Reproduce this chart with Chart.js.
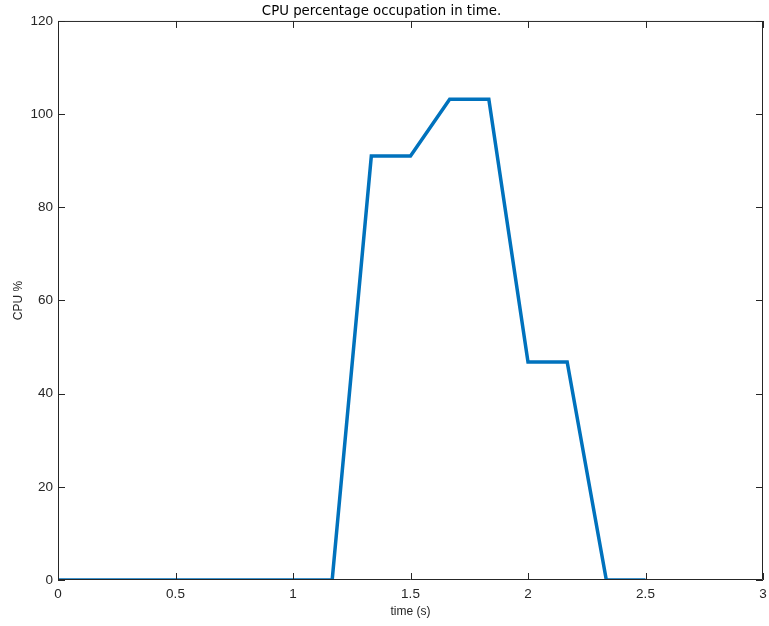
<!DOCTYPE html>
<html>
<head>
<meta charset="utf-8">
<script src="https://cdn.jsdelivr.net/npm/chart.js@4/dist/chart.umd.min.js"></script>
<style>
html,body{margin:0;padding:0;background:#fff;}
#wrap{width:769px;height:626px;position:relative;}
</style>
</head>
<body>
<div id="wrap"><canvas id="c" width="769" height="626"></canvas></div>
<script>
const timeValues = [0, 0.1667, 0.3333, 0.5, 0.6667, 0.8333, 1.0, 1.1667, 1.3333, 1.5, 1.6667, 1.8333, 2.0, 2.1667, 2.3333, 2.5];
const cpuValues  = [0, 0, 0, 0, 0, 0, 0, 0, 91, 91, 103.2, 103.2, 46.8, 46.8, 0, 0];
const xTicks = [0, 0.5, 1, 1.5, 2, 2.5, 3];
const yTicks = [0, 20, 40, 60, 80, 100, 120];

const axisColor = '#262626';
const fontFam = '"Liberation Sans", Arial, sans-serif';
const titleFam = '"DejaVu Sans", sans-serif';

const boxTicks = {
  id: 'boxTicks',
  afterDraw(chart) {
    const ctx = chart.ctx, a = chart.chartArea;
    const xs = chart.scales.x, ys = chart.scales.y;
    ctx.save();
    ctx.strokeStyle = axisColor;
    ctx.lineWidth = 1;
    ctx.beginPath();
    ctx.rect(a.left + 0.5, a.top + 0.5, a.right - a.left - 1, a.bottom - a.top - 1);
    ctx.stroke();
    const L = 7;
    ctx.beginPath();
    xTicks.forEach(v => {
      const px = Math.round(xs.getPixelForValue(v)) + 0.5;
      ctx.moveTo(px, a.bottom); ctx.lineTo(px, a.bottom - L);
      ctx.moveTo(px, a.top); ctx.lineTo(px, a.top + L);
    });
    yTicks.forEach(v => {
      const py = Math.round(ys.getPixelForValue(v)) + 0.5;
      ctx.moveTo(a.left, py); ctx.lineTo(a.left + L, py);
      ctx.moveTo(a.right, py); ctx.lineTo(a.right - L, py);
    });
    ctx.stroke();
    ctx.restore();
  }
};

new Chart(document.getElementById('c'), {
  type: 'line',
  data: {
    datasets: [{
      data: timeValues.map((t, i) => ({x: t, y: cpuValues[i]})),
      borderColor: '#0072BD',
      borderWidth: 3.5,
      pointRadius: 0,
      tension: 0,
      fill: false,
      borderJoinStyle: 'miter',
      borderCapStyle: 'butt'
    }]
  },
  options: {
    responsive: false,
    animation: false,
    layout: { padding: { left: 0, right: 6, top: 0, bottom: 0 } },
    plugins: {
      legend: { display: false },
      tooltip: { enabled: false },
      title: {
        display: true,
        text: 'CPU percentage occupation in time.',
        color: '#000',
        font: { family: titleFam, size: 13.3, weight: 'normal', lineHeight: 1.2 },
        padding: { top: 4, bottom: 1 }
      }
    },
    scales: {
      x: {
        type: 'linear',
        min: 0, max: 3,
        afterBuildTicks(s) { s.ticks = xTicks.map(v => ({value: v})); },
        afterFit(s) { s.height = 46; s.paddingLeft = 0; s.paddingRight = 0; },
        ticks: {
          color: axisColor,
          font: { family: fontFam, size: 13.5 },
          padding: 6,
          maxRotation: 0,
          callback: v => String(v)
        },
        grid: { display: false, drawTicks: false },
        border: { display: false },
        title: {
          display: true,
          text: 'time (s)',
          color: axisColor,
          font: { family: fontFam, size: 12 },
          padding: { top: 2, bottom: 7 }
        }
      },
      y: {
        type: 'linear',
        min: 0, max: 120,
        afterBuildTicks(s) { s.ticks = yTicks.map(v => ({value: v})); },
        afterFit(s) { s.width = 58; s.paddingTop = 0; s.paddingBottom = 0; },
        ticks: {
          color: axisColor,
          font: { family: fontFam, size: 13.5 },
          padding: 5,
          callback: v => String(v)
        },
        grid: { display: false, drawTicks: false },
        border: { display: false },
        title: {
          display: true,
          text: 'CPU %',
          color: axisColor,
          font: { family: fontFam, size: 12 },
          padding: { top: 11, bottom: 4 }
        }
      }
    }
  },
  plugins: [boxTicks]
});
</script>
</body>
</html>
